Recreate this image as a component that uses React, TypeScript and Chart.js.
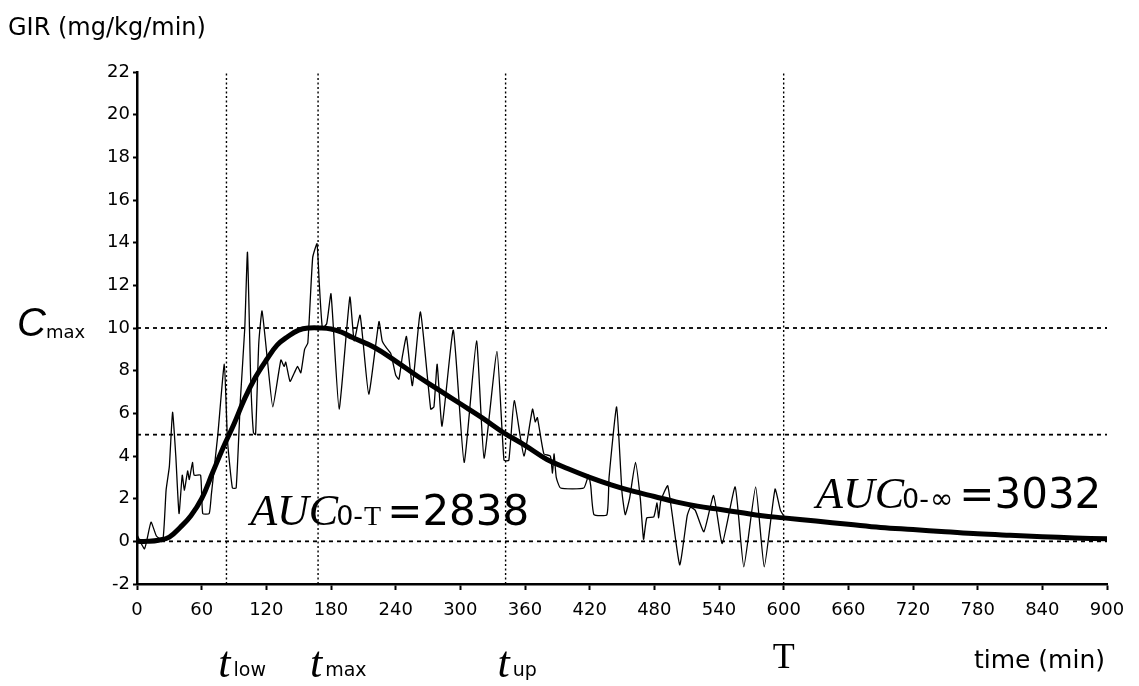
import React, { useEffect, useRef } from "react";
import { Chart, registerables } from "chart.js";

Chart.register(...registerables);

// ---------- data ----------
const yAxisTitle = "GIR (mg/kg/min)";
const xAxisTitle = "time (min)";
const xMin = 0;
const xMax = 900;
const xStep = 60;
const yMin = -2;
const yMax = 22;
const yStep = 2;

// measured glucose infusion rate (thin noisy line)
const girTimes = [
  0, 7, 13, 18, 24, 27, 30, 33, 36, 39, 42, 44, 47, 48.5, 51.5, 53, 59, 61, 67, 69, 75, 81, 84, 88.5, 92, 96,
  100, 102.5, 105.5, 108, 110, 113, 116, 121, 126, 133.5, 136.5, 138, 142, 146, 149, 152, 155.5, 158.5, 163, 167,
  169, 172, 176, 180, 187.5, 197.5, 201.5, 207, 215, 224.5, 227.5, 231, 235.5, 240, 243, 246, 250, 255.5, 263,
  272.5, 275.5, 278.5, 283, 293.5, 303.5, 315, 322, 334, 340.5, 345, 350, 359, 367, 369.5, 371.5, 377.5, 383.5,
  385.5, 387, 389, 393, 414.5, 419, 421, 424, 436, 438, 445, 450, 453, 457, 462.5, 467, 470, 473, 479.5, 482.5,
  484, 486, 492.5, 503.5, 510.5, 513.5, 518, 526, 535, 543, 555, 563, 574, 582, 592, 597, 600,
];
const girValues = [
  0.3, -0.35, 0.9, 0.25, 0.05, 2.4, 3.5, 6.05, 4.0, 1.3, 3.1, 2.4, 3.3, 2.9, 3.7, 3.1, 3.1, 1.3, 1.3, 2.2, 5.0,
  8.3, 4.7, 2.5, 2.5, 6.7, 10.0, 13.55, 7.6, 5.1, 5.0, 9.3, 10.8, 8.5, 6.3, 8.5, 8.2, 8.4, 7.5, 7.9, 8.2, 7.9,
  9.0, 9.3, 13.3, 13.95, 12.2, 10.0, 10.2, 11.6, 6.2, 11.45, 9.4, 10.6, 6.9, 10.3, 9.4, 9.1, 8.8, 7.8, 7.6, 8.6,
  9.6, 7.3, 10.75, 6.2, 6.3, 8.3, 5.4, 9.9, 3.7, 9.4, 3.9, 8.9, 3.8, 3.8, 6.6, 4.0, 6.2, 5.6, 5.8, 4.1, 4.0,
  3.2, 4.1, 3.0, 2.5, 2.5, 3.1, 2.6, 1.25, 1.25, 3.0, 6.3, 2.3, 1.25, 2.0, 3.7, 2.0, 0.1, 1.1, 1.15, 1.8,
  1.1, 1.9, 2.6, -1.1, 1.2, 1.6, 1.45, 0.45, 2.15, -0.1, 2.55, -1.2, 2.55, -1.2, 2.45, 1.45, 1.2,
];

// fitted smooth curve (thick line)
const fitTimes = [
  0, 10, 20, 30, 40, 50, 60, 70, 80, 90, 100, 110, 120, 130, 140, 150, 160, 170, 180, 190, 200, 220, 240, 260,
  280, 300, 320, 340, 360, 380, 400, 420, 440, 460, 480, 500, 520, 540, 560, 580, 600, 630, 660, 690, 720, 750,
  780, 810, 840, 870, 900,
];
const fitValues = [
  0, 0, 0.05, 0.2, 0.65, 1.2, 2.0, 3.2, 4.4, 5.5, 6.7, 7.7, 8.5, 9.2, 9.6, 9.9, 10.0, 10.0, 9.95, 9.8, 9.55,
  9.1, 8.45, 7.75, 7.1, 6.45, 5.8, 5.1, 4.5, 3.85, 3.4, 3.0, 2.65, 2.35, 2.1, 1.85, 1.65, 1.5, 1.35, 1.2, 1.1,
  0.95, 0.8, 0.65, 0.55, 0.45, 0.35, 0.28, 0.22, 0.16, 0.12,
];

// reference times (vertical dotted lines) and their labels
const refTimes = [83, 168, 342, 600];
const refMain = ["t", "t", "t", "T"];
const refSub = ["low", "max", "up", ""];

// reference levels (horizontal dashed lines): Cmax, Cmax/2, 0
const refLevels = [10, 5, 0];
const cmaxValue = 10;

// AUC annotations
const aucSubs = ["0-", "0-"];
const aucSubEnds = ["T", "∞"];
const aucValues = ["2838", "3032"];
const aucAnchorTimes = [105, 630];
const aucAnchorLevels = [0.75, 1.55];

// ---------- chart ----------
const textPlugin = {
  id: "textAnnotations",
  afterDraw(chart: any) {
    const ctx = chart.ctx as CanvasRenderingContext2D;
    const xs = chart.scales.x;
    const ys = chart.scales.y;
    ctx.save();
    ctx.fillStyle = "#000";
    ctx.textBaseline = "alphabetic";

    // y axis title
    ctx.textAlign = "left";
    ctx.font = '24px "DejaVu Sans"';
    ctx.fillText(yAxisTitle, 8, 35);

    // Cmax
    const yc = ys.getPixelForValue(cmaxValue);
    ctx.font = 'italic 40px "Liberation Sans"';
    ctx.fillText("C", 17, yc + 8);
    ctx.font = '18px "DejaVu Sans"';
    ctx.fillText("max", 46, yc + 10);

    // time labels under vertical lines
    refTimes.forEach((t, i) => {
      const px = xs.getPixelForValue(t);
      if (refMain[i] === "T") {
        ctx.font = '36px "Liberation Serif"';
        ctx.textAlign = "center";
        ctx.fillText(refMain[i], px, 668);
      } else {
        ctx.font = 'italic 44px "Liberation Serif"';
        ctx.textAlign = "center";
        const w = ctx.measureText(refMain[i]).width;
        ctx.fillText(refMain[i], px - 2, 677);
        ctx.textAlign = "left";
        ctx.font = '19px "DejaVu Sans"';
        ctx.fillText(refSub[i], px - 2 + w / 2 + 3, 676);
      }
    });

    // x axis title
    ctx.textAlign = "right";
    ctx.font = '25px "DejaVu Sans"';
    ctx.fillText(xAxisTitle, 1105, 668);

    // AUC labels
    aucValues.forEach((v, i) => {
      let px = xs.getPixelForValue(aucAnchorTimes[i]);
      const py = ys.getPixelForValue(aucAnchorLevels[i]);
      ctx.textAlign = "left";
      ctx.font = 'italic 44px "Liberation Serif"';
      ctx.fillText("AUC", px, py);
      px += ctx.measureText("AUC").width - 2;
      ctx.font = '27px "DejaVu Sans"';
      ctx.fillText(aucSubs[i], px, py);
      px += ctx.measureText(aucSubs[i]).width + 1;
      if (aucSubEnds[i] === "T") {
        ctx.font = '28px "Liberation Serif"';
      } else {
        ctx.font = '28px "DejaVu Sans"';
      }
      ctx.fillText(aucSubEnds[i], px, py);
      px += ctx.measureText(aucSubEnds[i]).width + 6;
      ctx.font = '42px "DejaVu Sans"';
      ctx.fillText("=" + v, px, py);
    });

    ctx.restore();
  },
};

export default function App() {
  const canvasRef = useRef<HTMLCanvasElement | null>(null);

  useEffect(() => {
    document.body.style.margin = "0";
    const canvas = canvasRef.current;
    if (!canvas) return;

    const girData = girTimes.map((t, i) => ({ x: t, y: girValues[i] }));
    const fitData = fitTimes.map((t, i) => ({ x: t, y: fitValues[i] }));

    const levelSets = refLevels.map((lv) => ({
      data: [
        { x: xMin, y: lv },
        { x: xMax, y: lv },
      ],
      borderColor: "#000",
      borderWidth: 1.8,
      borderDash: [4, 4],
      pointRadius: 0,
      tension: 0,
      order: 5,
    }));
    const timeSets = refTimes.map((t) => ({
      data: [
        { x: t, y: yMin },
        { x: t, y: yMax },
      ],
      borderColor: "#000",
      borderWidth: 1.4,
      borderDash: [2, 2.5],
      pointRadius: 0,
      tension: 0,
      order: 5,
    }));

    const chart = new Chart(canvas, {
      type: "line",
      data: {
        datasets: [
          {
            data: girData,
            borderColor: "#000",
            borderWidth: 1.3,
            pointRadius: 0,
            tension: 0.15,
            order: 2,
          },
          {
            data: fitData,
            borderColor: "#000",
            borderWidth: 5,
            pointRadius: 0,
            tension: 0.4,
            order: 1,
          },
          ...levelSets,
          ...timeSets,
        ] as any,
      },
      options: {
        animation: false,
        responsive: false,
        layout: { padding: { top: 72, right: 32, left: 0, bottom: 0 } },
        plugins: {
          legend: { display: false },
          tooltip: { enabled: false },
          title: { display: false },
        },
        scales: {
          x: {
            type: "linear",
            min: xMin,
            max: xMax,
            afterFit: (scale: any) => {
              scale.height = 102;
            },
            ticks: {
              stepSize: xStep,
              autoSkip: false,
              maxRotation: 0,
              color: "#000",
              padding: 10,
              font: { family: "DejaVu Sans", size: 18 },
            },
            grid: {
              display: true,
              drawOnChartArea: false,
              drawTicks: true,
              tickLength: 6,
              tickColor: "#000",
              tickWidth: 2,
            },
            border: { display: true, color: "#000", width: 2.5 },
          },
          y: {
            type: "linear",
            min: yMin,
            max: yMax,
            afterFit: (scale: any) => {
              scale.width = 137;
            },
            ticks: {
              stepSize: yStep,
              autoSkip: false,
              color: "#000",
              padding: 3,
              font: { family: "DejaVu Sans", size: 18 },
            },
            grid: {
              display: true,
              drawOnChartArea: false,
              drawTicks: true,
              tickLength: 4,
              tickColor: "#000",
              tickWidth: 2,
            },
            border: { display: true, color: "#000", width: 2.5 },
          },
        },
      } as any,
      plugins: [textPlugin],
    });

    return () => {
      chart.destroy();
    };
  }, []);

  return (
    <div style={{ position: "relative", width: 1139, height: 686, background: "#fff" }}>
      <canvas ref={canvasRef} width={1139} height={686} style={{ width: 1139, height: 686, display: "block" }} />
    </div>
  );
}
